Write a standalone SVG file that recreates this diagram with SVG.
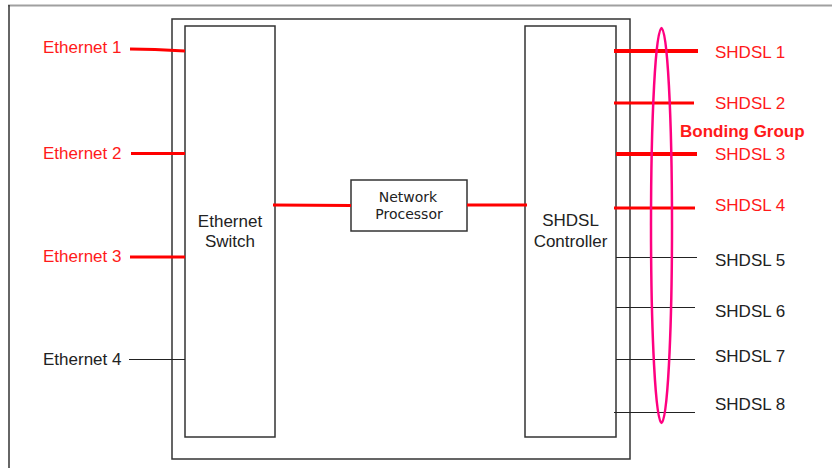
<svg xmlns="http://www.w3.org/2000/svg" width="832" height="468" viewBox="0 0 832 468">
<style>
.box{fill:#fff;stroke:#333;stroke-width:1.5}
.lbl{font-family:"Liberation Sans",Arial,sans-serif;font-size:17px}
.red{fill:#ff1a1a}
.blk{fill:#222}
.rl{stroke:#ff0000;stroke-width:3;fill:none}
.rt{stroke:#ff0000;stroke-width:4;fill:none}
.bl{stroke:#222;stroke-width:1;fill:none}
</style>
<rect width="832" height="468" fill="#fff"/>
<line x1="8" y1="5.5" x2="832" y2="5.5" stroke="#a0a0a0" stroke-width="2"/>
<line x1="9" y1="5" x2="9" y2="468" stroke="#333" stroke-width="1.5"/>
<g id="chassis"><rect class="box" x="172" y="19" width="458" height="440"/></g>
<g id="switch">
<rect class="box" x="185" y="26" width="90" height="411"/>
<text class="lbl blk" x="230" y="227" text-anchor="middle">Ethernet</text>
<text class="lbl blk" x="230" y="247" text-anchor="middle">Switch</text>
</g>
<g id="controller">
<rect class="box" x="525" y="26" width="91" height="411"/>
<text class="lbl blk" x="570.5" y="226" text-anchor="middle">SHDSL</text>
<text class="lbl blk" x="570.5" y="247" text-anchor="middle">Controller</text>
</g>
<g id="np">
<rect class="box" x="351" y="180" width="116" height="51"/>
<text x="408" y="202" text-anchor="middle" font-family="DejaVu Sans,sans-serif" font-size="14" fill="#222">Network</text>
<text x="409" y="219" text-anchor="middle" font-family="DejaVu Sans,sans-serif" font-size="14" fill="#222">Processor</text>
</g>
<g id="connectors">
<polyline class="rl" points="130,49 155,49.5 185,51"/>
<line class="rl" x1="131" y1="153.5" x2="185" y2="153.5"/>
<line class="rl" x1="130" y1="257" x2="185" y2="257"/>
<line class="bl" x1="129" y1="359.5" x2="185" y2="359.5"/>
<line class="rl" x1="273" y1="205" x2="351" y2="205.5"/>
<line class="rl" x1="467" y1="205" x2="527" y2="205"/>
<line class="rt" x1="614" y1="51" x2="698" y2="51"/>
<line class="rl" x1="614" y1="103" x2="694" y2="103"/>
<line class="rt" x1="616" y1="154" x2="697" y2="154"/>
<line class="rl" x1="614" y1="208" x2="695" y2="208"/>
<line class="bl" x1="616" y1="257.5" x2="697" y2="257.5"/>
<line class="bl" x1="616" y1="307.5" x2="695" y2="307.5"/>
<line class="bl" x1="616" y1="359.5" x2="695" y2="359.5"/>
<line class="bl" x1="614" y1="412.5" x2="695" y2="412.5"/>
</g>
<g id="bonding">
<ellipse cx="661.5" cy="225.5" rx="10.5" ry="197.5" fill="none" stroke="#ff0080" stroke-width="2.5"/>
<text class="lbl" x="680" y="137" font-weight="bold" fill="#ff1a1a">Bonding Group</text>
</g>
<g id="labels">
<text class="lbl red" x="43" y="53">Ethernet 1</text>
<text class="lbl red" x="43" y="159">Ethernet 2</text>
<text class="lbl red" x="43" y="262">Ethernet 3</text>
<text class="lbl blk" x="43" y="365">Ethernet 4</text>
<text class="lbl red" x="715" y="58">SHDSL 1</text>
<text class="lbl red" x="715" y="109">SHDSL 2</text>
<text class="lbl red" x="715" y="160">SHDSL 3</text>
<text class="lbl red" x="715" y="211">SHDSL 4</text>
<text class="lbl blk" x="715" y="266">SHDSL 5</text>
<text class="lbl blk" x="715" y="317">SHDSL 6</text>
<text class="lbl blk" x="715" y="362">SHDSL 7</text>
<text class="lbl blk" x="715" y="410">SHDSL 8</text>
</g>
</svg>
